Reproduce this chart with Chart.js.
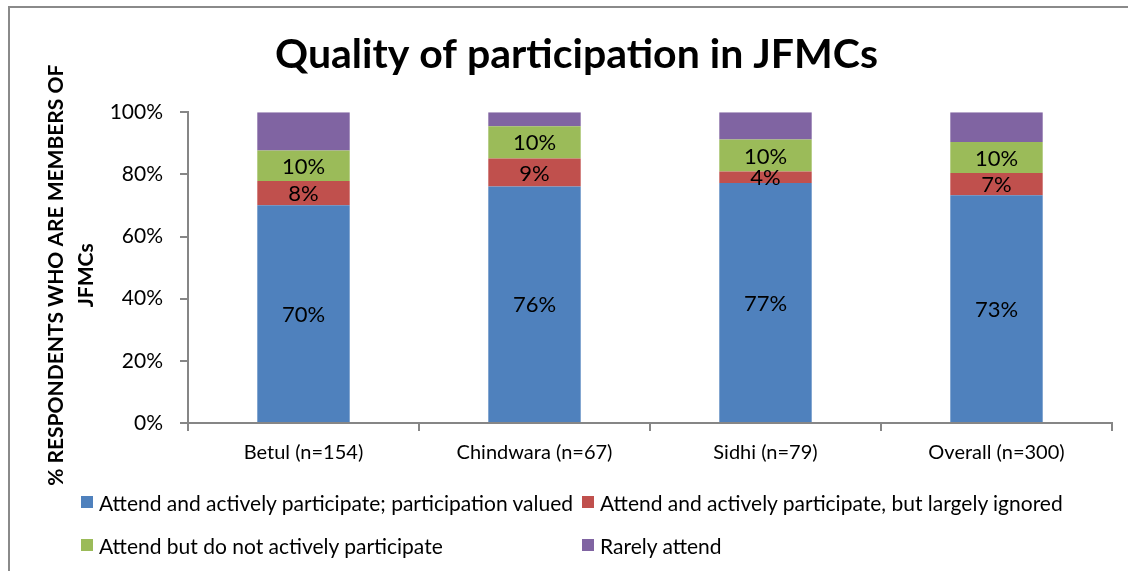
<!DOCTYPE html>
<html>
<head>
<meta charset="utf-8">
<script src="https://cdn.jsdelivr.net/npm/chart.js@4/dist/chart.umd.min.js"></script>
<style>
    html, body { margin: 0; padding: 0; background: #fff; }
    #wrap { position: relative; width: 1128px; height: 571px; overflow: hidden; font-family: "Lato", sans-serif; }
    #frame { position: absolute; left: 8px; top: 6px; width: 1200px; height: 700px; border: 2px solid #8a8a8a; }
    #chart { position: absolute; left: 0; top: 0; }
    .lg { position: absolute; display: flex; align-items: center; font-size: 21px; color: #000; white-space: nowrap; height: 24px; }
    .lg span.box { display: inline-block; width: 12px; height: 12px; margin-right: 6px; }
</style>
</head>
<body>
<div id="wrap">
    <div id="frame"></div>
    <canvas id="chart" width="1128" height="571"></canvas>
    <div id="legend"></div>
</div>
<script>
(function () {
    "use strict";

    const categories = ["Betul (n=154)", "Chindwara (n=67)", "Sidhi (n=79)", "Overall (n=300)"];
    const seriesNames = [
        "Attend and actively participate; participation valued",
        "Attend and actively participate, but largely ignored",
        "Attend but do not actively participate",
        "Rarely attend",
    ];
    const valued = [70.1, 76.1, 77.2, 73.3];
    const ignored = [7.8, 9.0, 3.7, 7.1];
    const passive = [9.8, 10.4, 10.3, 10.0];
    const rarely = [12.3, 4.5, 8.8, 9.6];
    const colors = ["#4F81BD", "#C0504D", "#9BBB59", "#8064A2"];
    const yTicks = [0, 20, 40, 60, 80, 100];

    const seriesValues = [valued, ignored, passive, rarely];
    const fontFamily = "Lato, sans-serif";

    // Segment labels (series 0-2 only, like the original)
    const segmentLabels = {
        id: "segmentLabels",
        afterDatasetsDraw(chart) {
            const ctx = chart.ctx;
            ctx.save();
            ctx.font = "22px " + fontFamily;
            ctx.fillStyle = "#000";
            ctx.textAlign = "center";
            ctx.textBaseline = "middle";
            chart.data.datasets.forEach((ds, i) => {
                if (i > 2) return;
                chart.getDatasetMeta(i).data.forEach((bar, j) => {
                    const y = (bar.y + bar.base) / 2;
                    ctx.fillText(Math.round(ds.data[j]) + "%", bar.x, y + 1);
                });
            });
            ctx.restore();
        },
    };

    const ctx = document.getElementById("chart").getContext("2d");
    new Chart(ctx, {
        type: "bar",
        data: {
            labels: categories,
            datasets: seriesValues.map((vals, i) => ({
                label: seriesNames[i],
                data: vals,
                backgroundColor: colors[i],
                borderWidth: 0,
                barPercentage: 0.4,
                categoryPercentage: 1,
            })),
        },
        options: {
            responsive: false,
            animation: false,
            layout: {
                padding: { left: 41, right: 16, top: 0, bottom: 98 },
            },
            plugins: {
                legend: { display: false },
                tooltip: { enabled: false },
                title: {
                    display: true,
                    text: "Quality of participation in JFMCs",
                    color: "#000",
                    font: { family: fontFamily, size: 41, weight: "bold", lineHeight: 1.2 },
                    padding: { top: 30, bottom: 33 },
                },
            },
            scales: {
                x: {
                    stacked: true,
                    afterFit: (s) => { s.height = 50; },
                    ticks: {
                        color: "#000",
                        font: { family: fontFamily, size: 20 },
                        padding: 10,
                    },
                    grid: {
                        offset: true,
                        drawOnChartArea: false,
                        drawTicks: true,
                        tickLength: 8,
                        color: "#868686",
                        lineWidth: 2,
                    },
                    border: { display: true, color: "#868686", width: 2 },
                },
                y: {
                    stacked: true,
                    min: 0,
                    max: 100,
                    afterFit: (s) => { s.width = 147; },
                    afterBuildTicks: (s) => { s.ticks = yTicks.map((v) => ({ value: v })); },
                    ticks: {
                        color: "#000",
                        font: { family: fontFamily, size: 21 },
                        padding: 17,
                        callback: (value) => value + "%",
                    },
                    grid: {
                        drawOnChartArea: false,
                        drawTicks: true,
                        tickLength: 8,
                        color: "#868686",
                        lineWidth: 2,
                    },
                    border: { display: true, color: "#868686", width: 2 },
                    title: {
                        display: true,
                        // trailing spaces nudge the rotated title down a little
                        text: ["% RESPONDENTS WHO ARE MEMBERS OF   ", "JFMCs   "],
                        color: "#000",
                        font: { family: fontFamily, size: 21, weight: "bold", lineHeight: 1.45 },
                        padding: { top: 0, bottom: 0 },
                    },
                },
            },
        },
        plugins: [segmentLabels],
    });

    // Legend laid out in two aligned columns, as in the original
    const legendPos = [
        { left: 81, top: 490 },
        { left: 582, top: 490 },
        { left: 81, top: 533 },
        { left: 582, top: 533 },
    ];
    const legend = document.getElementById("legend");
    seriesNames.forEach((name, i) => {
        const item = document.createElement("div");
        item.className = "lg";
        item.style.left = legendPos[i].left + "px";
        item.style.top = legendPos[i].top + "px";
        const box = document.createElement("span");
        box.className = "box";
        box.style.background = colors[i];
        item.appendChild(box);
        item.appendChild(document.createTextNode(name));
        legend.appendChild(item);
    });
})();
</script>
</body>
</html>
